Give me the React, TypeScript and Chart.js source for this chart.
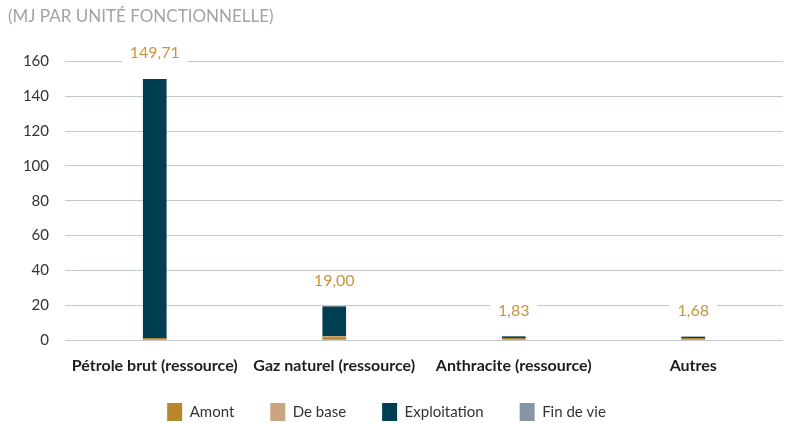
import React, { useEffect, useRef } from "react";
import { Chart, registerables } from "chart.js";

Chart.register(...registerables);

const categories = [
  "Pétrole brut (ressource)",
  "Gaz naturel (ressource)",
  "Anthracite (ressource)",
  "Autres",
];
const amont = [0.8, 1.3, 0.8, 0.75];
const deBase = [0, 0.8, 0, 0];
const exploitation = [148.91, 16.9, 1.03, 0.93];
const finDeVie = [0, 0, 0, 0];
const totals = [149.71, 19.0, 1.83, 1.68];
const yTicks = [0, 20, 40, 60, 80, 100, 120, 140, 160];

const FONT = "Lato, 'Open Sans', sans-serif";

const totalLabels = {
  id: "totalLabels",
  afterDatasetsDraw(chart: any) {
    const { ctx } = chart;
    const xScale = chart.scales.x;
    const yScale = chart.scales.y;
    ctx.save();
    ctx.font = `16px ${FONT}`;
    ctx.textAlign = "center";
    ctx.textBaseline = "middle";
    totals.forEach((t, i) => {
      const x = xScale.getPixelForValue(i);
      const top = yScale.getPixelForValue(t);
      const y = top - 26;
      const txt = t.toFixed(2).replace(".", ",");
      const w = ctx.measureText(txt).width;
      ctx.fillStyle = "#ffffff";
      ctx.fillRect(x - w / 2 - 8, y - 9, w + 16, 18);
      ctx.fillStyle = "#c8963e";
      ctx.fillText(txt, x, y);
    });
    ctx.restore();
  },
};

const legendPlacement = {
  id: "legendPlacement",
  afterLayout(chart: any) {
    const lg = chart.legend;
    if (!lg) return;
    lg.top = 367;
    lg.bottom = 423;
    lg.height = 56;
    lg.left -= 9;
    lg.right -= 9;
  },
};

export default function App() {
  const ref = useRef<HTMLCanvasElement>(null);
  useEffect(() => {
    document.body.style.margin = "0";
    const chart = new Chart(ref.current!, {
      type: "bar",
      data: {
        labels: categories,
        datasets: [
          { label: "Amont", data: amont, backgroundColor: "#b8862b" },
          { label: "De base", data: deBase, backgroundColor: "#c9a57f" },
          { label: "Exploitation", data: exploitation, backgroundColor: "#003f51" },
          { label: "Fin de vie", data: finDeVie, backgroundColor: "#8796a5" },
        ],
      },
      options: {
        animation: false,
        responsive: false,
        maintainAspectRatio: false,
        layout: { padding: { left: 8, right: 8, bottom: 0, top: 0 } },
        datasets: { bar: { barThickness: 23 } },
        scales: {
          x: {
            stacked: true,
            grid: { display: false, drawTicks: false },
            border: { display: false },
            afterFit: (scale: any) => {
              scale.height = 36;
            },
            ticks: {
              padding: 16,
              color: "#1e1e1e",
              font: { family: FONT, size: 16, weight: "bold" },
              maxRotation: 0,
            },
          },
          y: {
            stacked: true,
            min: 0,
            max: 160,
            afterBuildTicks: (axis: any) => {
              axis.ticks = yTicks.map((v) => ({ value: v }));
            },
            afterFit: (scale: any) => {
              scale.width = 57;
            },
            grid: { color: "#c3c8cf", drawTicks: false, lineWidth: 1 },
            border: { display: false },
            ticks: {
              padding: 16,
              color: "#333333",
              font: { family: FONT, size: 15 },
            },
          },
        },
        plugins: {
          title: {
            display: true,
            text: "(MJ PAR UNITÉ FONCTIONNELLE)",
            align: "start",
            color: "#a3a3a3",
            font: { family: FONT, size: 17, weight: "normal" },
            padding: { top: 6, bottom: 35 },
          },
          legend: {
            position: "bottom",
            maxHeight: 47,
            labels: {
              boxWidth: 15,
              boxHeight: 18,
              padding: 36,
              color: "#333333",
              font: { family: FONT, size: 15 },
            },
          },
          tooltip: { enabled: false },
        },
      },
      plugins: [totalLabels, legendPlacement],
    });
    return () => chart.destroy();
  }, []);
  return <canvas ref={ref} width={791} height={423} style={{ display: "block" }} />;
}
